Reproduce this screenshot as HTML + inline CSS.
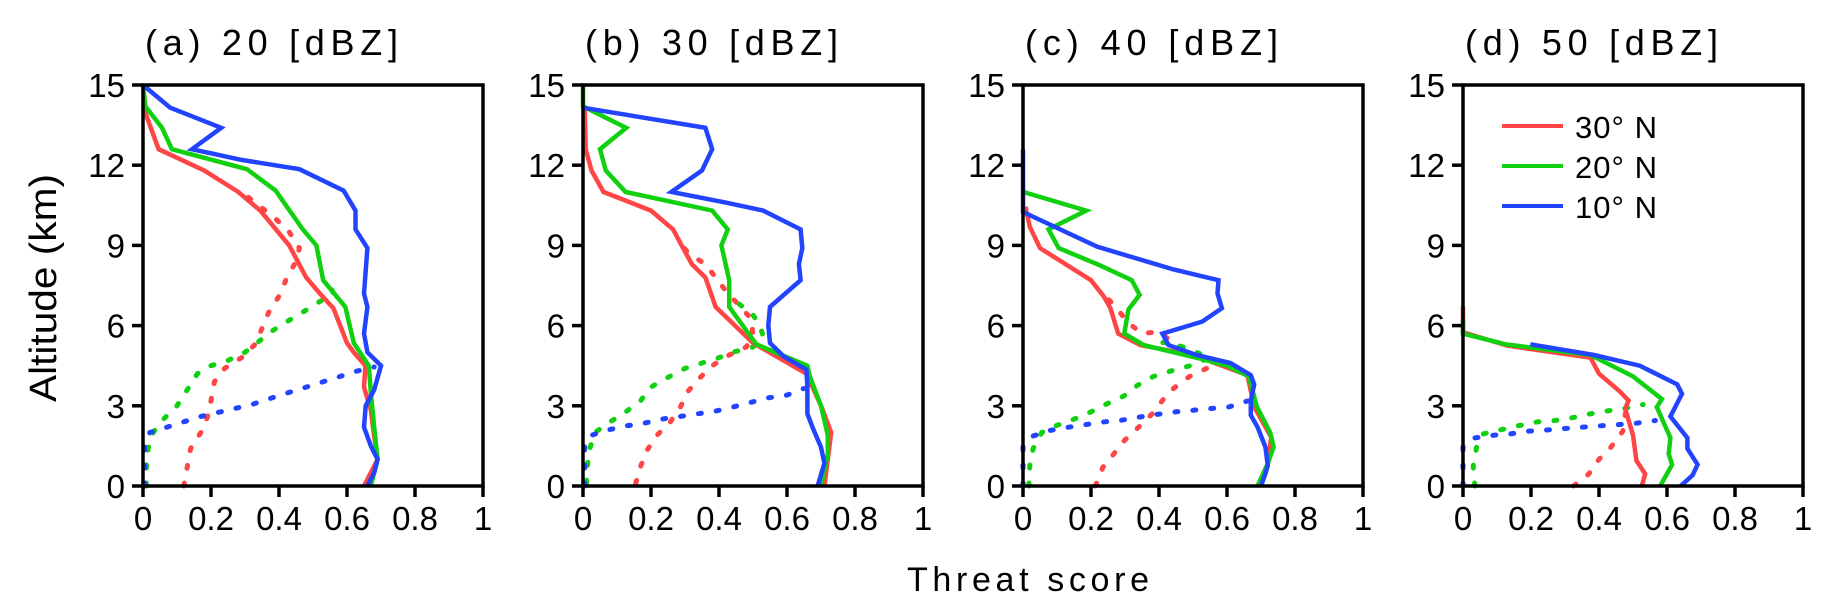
<!DOCTYPE html>
<html><head><meta charset="utf-8"><style>
html,body{margin:0;padding:0;background:#fff;}
svg{display:block;}
text{font-family:"Liberation Sans",sans-serif;fill:#000;}
</style></head><body>
<svg id="chart" width="1824" height="605" viewBox="0 0 1824 605" xmlns="http://www.w3.org/2000/svg">
<text x="0" y="0" transform="translate(56,288) rotate(-90)" text-anchor="middle" font-size="38" textLength="228" lengthAdjust="spacingAndGlyphs">Altitude (km)</text>
<text x="907" y="591" font-size="34" textLength="242" lengthAdjust="spacing">Threat score</text>
</svg>
<script>
// ---- data ----
const panelTitles = ["(a)  20 [dBZ]", "(b)  30 [dBZ]", "(c)  40 [dBZ]", "(d)  50 [dBZ]"];
const xTicks = [0, 0.2, 0.4, 0.6, 0.8, 1];
const xTickLabels = ["0", "0.2", "0.4", "0.6", "0.8", "1"];
const yTicks = [0, 3, 6, 9, 12, 15];
const yTickLabels = ["0", "3", "6", "9", "12", "15"];
const seriesNames = ["30° N", "20° N", "10° N"];

// panel a: [threat, altitude] pairs
const a_red = [[0,14.2],[0.046,12.6],[0.18,11.8],[0.28,11.0],[0.345,10.3],[0.43,9.0],[0.48,7.8],[0.52,7.2],[0.56,6.65],[0.6,5.35],[0.62,5.0],[0.654,4.5],[0.65,3.7],[0.67,2.85],[0.68,1.85],[0.69,1.0],[0.67,0.5],[0.65,0]];
const a_green = [[0,15],[0.007,14.2],[0.056,13.4],[0.085,12.6],[0.306,11.85],[0.39,11.05],[0.47,9.6],[0.51,9.0],[0.53,7.7],[0.595,6.7],[0.62,5.35],[0.664,4.5],[0.67,3.5],[0.68,2.2],[0.69,1.0],[0.67,0]];
const a_blue = [[0,15],[0.08,14.15],[0.23,13.4],[0.144,12.6],[0.29,12.2],[0.46,11.85],[0.59,11.05],[0.625,10.3],[0.625,9.6],[0.66,8.9],[0.65,7.2],[0.66,6.7],[0.65,5.7],[0.66,5.0],[0.7,4.5],[0.68,3.6],[0.655,3.0],[0.65,2.2],[0.67,1.5],[0.69,1.0],[0.68,0.5],[0.66,0]];
const a_redDot = [[0.12,0],[0.13,0.7],[0.14,1.4],[0.17,2.0],[0.19,2.6],[0.2,3.2],[0.21,3.9],[0.24,4.4],[0.29,4.8],[0.33,5.3],[0.35,5.9],[0.37,6.5],[0.4,7.1],[0.42,7.7],[0.45,8.4],[0.46,8.9],[0.43,9.5],[0.39,10.0],[0.35,10.4],[0.31,10.8]];
const a_greenDot = [[0.01,0],[0.01,0.75],[0.015,1.4],[0.03,2.0],[0.06,2.5],[0.1,3.0],[0.13,3.6],[0.16,4.2],[0.2,4.5],[0.25,4.7],[0.3,5.0],[0.34,5.4],[0.38,5.8],[0.43,6.2],[0.47,6.5],[0.52,6.9],[0.56,7.2],[0.54,7.8]];
const a_blueDot = [[0.005,0],[0.005,0.75],[0.005,1.5],[0.02,2.0],[0.07,2.2],[0.12,2.4],[0.17,2.6],[0.22,2.75],[0.27,2.9],[0.32,3.05],[0.38,3.3],[0.43,3.5],[0.48,3.7],[0.53,3.9],[0.58,4.1],[0.63,4.3],[0.68,4.45]];

// panel b
const b_red = [[0.005,14.2],[0.008,12.6],[0.025,11.8],[0.06,11.0],[0.2,10.3],[0.265,9.6],[0.29,9.0],[0.32,8.3],[0.36,7.8],[0.39,6.7],[0.5,5.35],[0.657,4.2],[0.7,3.0],[0.73,2.0],[0.72,1.0],[0.71,0]];
const b_green = [[0,15],[0,14.2],[0.127,13.4],[0.05,12.6],[0.067,11.8],[0.125,11.0],[0.38,10.3],[0.426,9.6],[0.407,9.0],[0.43,7.7],[0.43,6.7],[0.51,5.3],[0.66,4.5],[0.667,4.1],[0.7,3.0],[0.72,1.9],[0.72,1.2],[0.7,0]];
const b_blue = [[0,14.15],[0.36,13.4],[0.38,12.6],[0.35,11.8],[0.26,11.0],[0.42,10.6],[0.53,10.3],[0.64,9.6],[0.645,8.9],[0.635,8.3],[0.64,7.7],[0.55,6.7],[0.545,6.0],[0.55,5.35],[0.59,4.85],[0.657,4.35],[0.66,3.7],[0.66,2.7],[0.675,2.2],[0.7,1.45],[0.71,0.85],[0.69,0]];
const b_redDot = [[0.155,0.1],[0.17,0.75],[0.19,1.37],[0.22,1.93],[0.257,2.4],[0.287,2.97],[0.31,3.56],[0.34,4.0],[0.38,4.5],[0.43,4.9],[0.48,5.2],[0.5,5.6],[0.495,6.25],[0.42,7.3],[0.39,7.8],[0.36,8.3],[0.31,8.7],[0.28,9.2]];
const b_greenDot = [[0.01,0.1],[0.013,0.75],[0.02,1.4],[0.035,2.0],[0.08,2.4],[0.126,2.77],[0.17,3.2],[0.2,3.7],[0.24,4.0],[0.3,4.4],[0.35,4.6],[0.4,4.8],[0.44,5.0],[0.5,5.2],[0.53,5.6],[0.52,6.0],[0.5,6.4],[0.46,6.8],[0.43,7.2]];
const b_blueDot = [[0.005,0],[0.005,0.75],[0.005,1.5],[0.025,1.9],[0.074,2.1],[0.126,2.25],[0.18,2.35],[0.23,2.5],[0.285,2.6],[0.337,2.7],[0.39,2.8],[0.44,2.95],[0.5,3.15],[0.545,3.3],[0.6,3.4],[0.65,3.65]];

// panel c
const c_red = [[0.007,10.45],[0.02,9.7],[0.05,8.9],[0.2,7.7],[0.237,7.1],[0.257,6.65],[0.28,5.7],[0.345,5.27],[0.5,4.9],[0.66,4.15],[0.68,2.96],[0.73,1.83],[0.72,0.84],[0.69,0]];
const c_green = [[0,11.0],[0.186,10.3],[0.075,9.6],[0.105,8.9],[0.227,8.25],[0.32,7.7],[0.343,7.15],[0.31,6.6],[0.298,5.7],[0.355,5.27],[0.52,4.77],[0.6,4.5],[0.664,4.1],[0.688,2.96],[0.727,2.0],[0.737,1.46],[0.72,0.84],[0.69,0]];
const c_blue = [[0,12.6],[0,10.25],[0.218,8.95],[0.443,8.1],[0.575,7.7],[0.572,7.2],[0.585,6.65],[0.527,6.15],[0.41,5.7],[0.428,5.27],[0.51,4.9],[0.61,4.6],[0.67,4.15],[0.68,3.8],[0.67,3.2],[0.67,2.65],[0.69,2.2],[0.713,1.46],[0.72,0.77],[0.713,0.46],[0.7,0]];
const c_redDot = [[0.213,0],[0.235,0.7],[0.267,1.2],[0.3,1.73],[0.34,2.2],[0.38,2.7],[0.41,3.2],[0.443,3.65],[0.49,4.1],[0.54,4.4],[0.5,5.0],[0.45,5.27],[0.4,5.77],[0.35,5.7],[0.31,6.1],[0.275,6.65],[0.24,7.15]];
const c_greenDot = [[0.017,0],[0.02,0.77],[0.03,1.4],[0.055,2.0],[0.1,2.27],[0.15,2.5],[0.2,2.77],[0.247,3.08],[0.296,3.36],[0.337,3.77],[0.384,4.1],[0.435,4.3],[0.487,4.48],[0.55,4.8],[0.45,5.3],[0.39,5.4]];
const c_blueDot = [[0,0],[0,0.77],[0,1.46],[0.03,1.87],[0.08,2.08],[0.134,2.2],[0.186,2.3],[0.24,2.4],[0.29,2.46],[0.343,2.58],[0.394,2.68],[0.448,2.77],[0.5,2.83],[0.553,2.9],[0.606,2.96],[0.66,3.18]];

// panel d
const d_red = [[0,6.7],[0,5.75],[0.13,5.25],[0.375,4.8],[0.4,4.2],[0.46,3.55],[0.487,3.2],[0.477,2.9],[0.5,1.9],[0.51,0.95],[0.536,0.45],[0.526,0]];
const d_green = [[0,6.2],[0,5.7],[0.125,5.3],[0.375,4.9],[0.5,4.1],[0.585,3.25],[0.57,2.95],[0.61,1.8],[0.605,1.2],[0.615,0.8],[0.58,0]];
const d_blue = [[0.198,5.3],[0.385,4.9],[0.52,4.5],[0.63,3.8],[0.644,3.45],[0.61,2.6],[0.66,1.8],[0.66,1.4],[0.69,0.8],[0.675,0.4],[0.64,0]];
const d_redDot = [[0.325,0],[0.37,0.45],[0.4,1.0],[0.435,1.45],[0.47,2.05],[0.48,2.9]];
const d_greenDot = [[0.035,0],[0.03,0.75],[0.04,1.45],[0.06,1.95],[0.11,2.1],[0.16,2.25],[0.22,2.4],[0.27,2.45],[0.32,2.55],[0.375,2.7],[0.42,2.8],[0.475,2.9],[0.53,3.05]];
const d_blueDot = [[0,0],[0,0.75],[0,1.45],[0.035,1.8],[0.09,1.9],[0.14,1.95],[0.19,2.05],[0.25,2.1],[0.3,2.15],[0.35,2.2],[0.4,2.25],[0.46,2.3],[0.51,2.35],[0.566,2.45]];

const panelSolid = [[a_red,a_green,a_blue],[b_red,b_green,b_blue],[c_red,c_green,c_blue],[d_red,d_green,d_blue]];
const panelDotted = [[a_redDot,a_greenDot,a_blueDot],[b_redDot,b_greenDot,b_blueDot],[c_redDot,c_greenDot,c_blueDot],[d_redDot,d_greenDot,d_blueDot]];

// ---- drawing ----
const NS = "http://www.w3.org/2000/svg";
const svg = document.getElementById("chart");
const colors = ["#ff4545", "#10d010", "#2244ff"];
const panelLeft = [143, 583, 1023, 1463];
const PW = 340, TOP = 85, BOT = 486;
function mk(tag, attrs, parent) {
  const e = document.createElementNS(NS, tag);
  for (const k in attrs) e.setAttribute(k, attrs[k]);
  (parent || svg).appendChild(e);
  return e;
}
for (let p = 0; p < 4; p++) {
  const L = panelLeft[p];
  const xs = v => L + v * PW;
  const ys = v => BOT - (v / 15) * (BOT - TOP);
  const g = mk("g", {});
  
  
  const t = mk("text", {x: L + 2, y: 55, "font-size": 36, textLength: 253, lengthAdjust: "spacing"}, g);
  t.textContent = panelTitles[p];
  
  
  for (let s = 0; s < 3; s++) {
    const dp = panelDotted[p][s].map(q => xs(q[0]).toFixed(1) + "," + ys(q[1]).toFixed(1)).join(" ");
    const dl = mk("polyline", {points: dp, fill: "none", stroke: colors[s], "stroke-width": 5, "stroke-linecap": "round", "stroke-dasharray": "3 15"}, g);
    
    
  }
  for (let s = 0; s < 3; s++) {
    const sp = panelSolid[p][s].map(q => xs(q[0]).toFixed(1) + "," + ys(q[1]).toFixed(1)).join(" ");
    const sl = mk("polyline", {points: sp, fill: "none", stroke: colors[s], "stroke-width": 4.5, "stroke-linejoin": "miter"}, g);
    
    
  }
  const fr = mk("rect", {x: L, y: TOP, width: PW, height: BOT - TOP, fill: "none", stroke: "#000", "stroke-width": 3.5}, g);
  
  
  for (let i = 0; i < xTicks.length; i++) {
    const x = xs(xTicks[i]);
    const tk = mk("line", {x1: x, y1: BOT, x2: x, y2: BOT + 11, stroke: "#000", "stroke-width": 3.5}, g);
    
    
    const tl = mk("text", {x: x, y: BOT + 44, "text-anchor": "middle", "font-size": 33}, g);
    tl.textContent = xTickLabels[i];
    
    
  }
  for (let i = 0; i < yTicks.length; i++) {
    const y = ys(yTicks[i]);
    const tk = mk("line", {x1: L - 11, y1: y, x2: L, y2: y, stroke: "#000", "stroke-width": 3.5}, g);
    
    
    const tl = mk("text", {x: L - 18, y: y + 12, "text-anchor": "end", "font-size": 33}, g);
    tl.textContent = yTickLabels[i];
    
    
  }
  if (p === 3) {
    const lg = mk("g", {}, g);
    
    
    for (let s = 0; s < 3; s++) {
      const y = 126 + s * 40;
      const ll = mk("line", {x1: 1502, y1: y, x2: 1563, y2: y, stroke: colors[s], "stroke-width": 4}, lg);
      
      
      const lt = mk("text", {x: 1575, y: y + 12, "font-size": 31, textLength: 82, lengthAdjust: "spacing"}, lg);
      lt.textContent = seriesNames[s];
      
      
    }
  }
}
</script>
</body></html>
